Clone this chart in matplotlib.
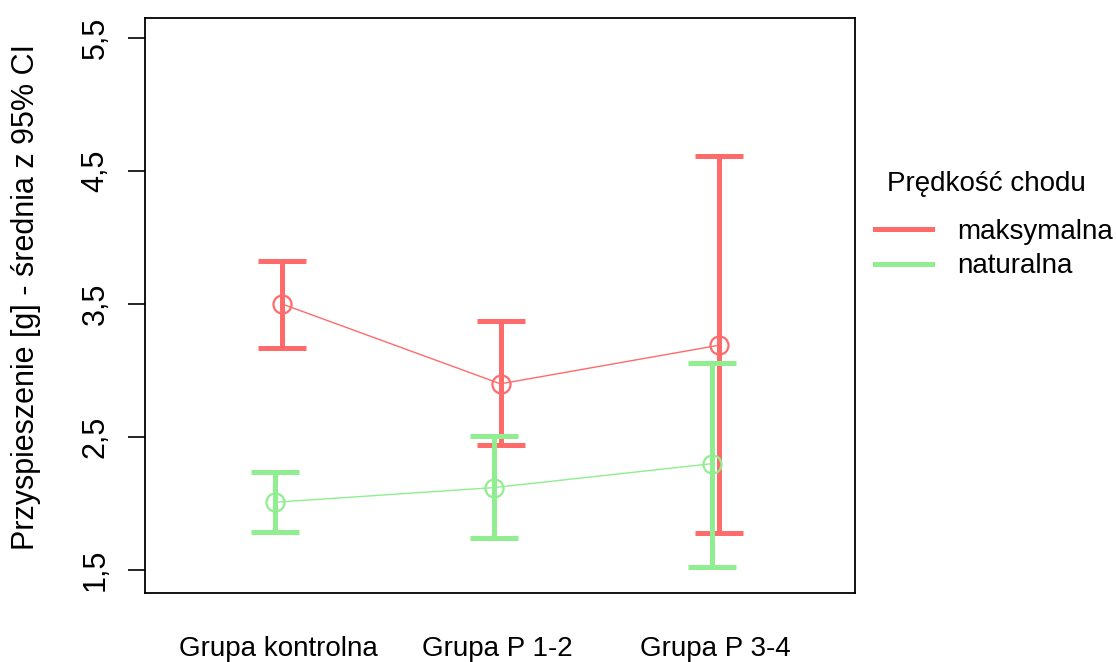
import matplotlib
matplotlib.use("Agg")

import numpy as np
import matplotlib.pyplot as plt
from matplotlib.lines import Line2D
from matplotlib.ticker import FuncFormatter

plt.rcParams["font.family"] = ["Liberation Sans", "DejaVu Sans"]

groups = ["Grupa kontrolna", "Grupa P 1-2", "Grupa P 3-4"]
speeds = ["maksymalna", "naturalna"]

max_mean = [3.50, 2.90, 3.19]
max_low = [3.17, 2.44, 1.78]
max_high = [3.82, 3.37, 4.61]

nat_mean = [2.01, 2.12, 2.30]
nat_low = [1.79, 1.74, 1.52]
nat_high = [2.24, 2.51, 3.06]

colors = ["#ff6b6b", "#90ee90"]
yticks = [1.5, 2.5, 3.5, 4.5, 5.5]

fig = plt.figure(figsize=(11.16, 6.62), dpi=100)
ax = fig.add_axes([0.130, 0.104, 0.636, 0.869])

x = np.arange(1, len(groups) + 1)
dodge = 0.016
series = [
    (max_mean, max_low, max_high, x + dodge),
    (nat_mean, nat_low, nat_high, x - dodge),
]
for (mean, low, high, xs), col in zip(series, colors):
    mean = np.array(mean)
    yerr = [mean - np.array(low), np.array(high) - mean]
    _, caps, _ = ax.errorbar(xs, mean, yerr=yerr, color=col, lw=1.0,
                             elinewidth=3.6, capsize=17,
                             marker="o", ms=13, mfc="none", mec=col, mew=1.6)
    for c in caps:
        c.set_markeredgewidth(3.6)

ax.set_xlim(0.389, 3.638)
ax.set_ylim(1.327, 5.65)
ax.set_xticks(x)
ax.set_xticklabels(groups, fontsize=20)
ax.tick_params(axis="x", length=0, pad=31)

ax.set_yticks(yticks)
ax.yaxis.set_major_formatter(FuncFormatter(lambda v, p: f"{v:.1f}".replace(".", ",")))
ax.tick_params(axis="y", length=12, width=1.2, pad=13, labelsize=22)
for lab in ax.get_yticklabels():
    lab.set_rotation(90)
    lab.set_verticalalignment("center")

for s in ax.spines.values():
    s.set_linewidth(1.3)

ax.set_ylabel("Przyspieszenie [g] - średnia z 95% CI", fontsize=22)
ax.yaxis.set_label_coords(-0.146, 0.514)

# legend: title placed on its own, entries below it
fig.text(887 / 1116, 1 - 184 / 662, "Prędkość chodu", fontsize=20,
         ha="left", va="center")
handles = [Line2D([], [], color=c, lw=3.6) for c in colors]
fig.legend(handles, speeds, loc="upper left",
           bbox_to_anchor=(875 / 1116, 1 - 219 / 662),
           frameon=False, fontsize=20, borderpad=0, borderaxespad=0,
           handlelength=2.05, handletextpad=0.9, labelspacing=0.3)

fig.savefig("out.png", dpi=100)
